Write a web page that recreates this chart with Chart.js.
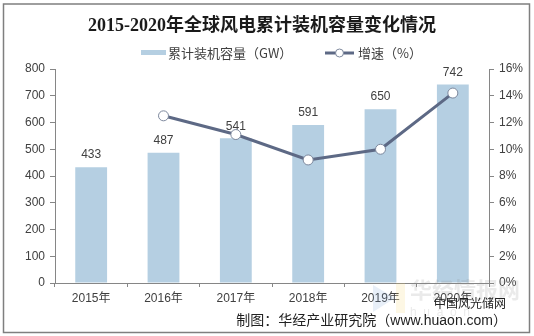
<!DOCTYPE html>
<html>
<head>
<meta charset="utf-8">
<script src="https://cdn.jsdelivr.net/npm/chart.js@4.4.1/dist/chart.umd.min.js"></script>
<style>
  html, body { margin: 0; padding: 0; background: #fff; }
  #chart { display: block; }
</style>
</head>
<body>
<canvas id="chart" width="534" height="336"></canvas>
<script>
// Datos
const years = ['2015年', '2016年', '2017年', '2018年', '2019年', '2020年'];
const capacity = [433, 487, 541, 591, 650, 742];        // GW
const growth = [null, 12.5, 11.1, 9.2, 10.0, 14.2];     // %

const titleText = '2015-2020年全球风电累计装机容量变化情况';
const barLabel = '累计装机容量（GW）';
const lineLabel = '增速（%）';
const sourceText = '制图：华经产业研究院（www.huaon.com）';
const markText = '中国风光储网';

const BAR_COLOR = '#b5cfe2';
const LINE_COLOR = '#5d6985';
const TEXT_COLOR = '#404040';
const FONT = '"Liberation Sans", "Noto Sans CJK SC", sans-serif';

// Titulo, leyenda, marco y pie dibujados a mano
const decor = {
  id: 'decor',
  afterDatasetDraw(chart, args) {
    if (args.index !== 0) return;
    // etiquetas sobre las barras
    const ctx = chart.ctx;
    ctx.save();
    ctx.font = '12px ' + FONT;
    ctx.fillStyle = TEXT_COLOR;
    ctx.textAlign = 'center';
    ctx.textBaseline = 'bottom';
    args.meta.data.forEach((bar, i) => {
      ctx.fillText(capacity[i], bar.x, bar.y - 6);
    });
    ctx.restore();
  },
  afterDraw(chart) {
    const ctx = chart.ctx;
    ctx.save();
    // marco
    ctx.strokeStyle = '#7f7f7f';
    ctx.lineWidth = 1.5;
    ctx.strokeRect(3.5, 4, 526, 328.5);

    // titulo
    ctx.fillStyle = '#1a1a1a';
    ctx.font = 'bold 18px "Liberation Serif", "Noto Sans CJK SC", serif';
    ctx.textAlign = 'center';
    ctx.textBaseline = 'middle';
    ctx.fillText(titleText, 262, 26);

    // leyenda
    ctx.font = '13px "Noto Sans CJK SC", "Liberation Sans", sans-serif';
    ctx.textAlign = 'left';
    ctx.fillStyle = BAR_COLOR;
    ctx.fillRect(141, 50, 25, 5);
    ctx.fillStyle = TEXT_COLOR;
    ctx.fillText(barLabel, 168, 53);
    ctx.strokeStyle = LINE_COLOR;
    ctx.lineWidth = 3;
    ctx.beginPath();
    ctx.moveTo(325, 53);
    ctx.lineTo(354, 53);
    ctx.stroke();
    ctx.beginPath();
    ctx.arc(339.5, 53, 4, 0, Math.PI * 2);
    ctx.fillStyle = '#fff';
    ctx.fill();
    ctx.strokeStyle = '#7d889d';
    ctx.lineWidth = 1;
    ctx.stroke();
    ctx.fillStyle = TEXT_COLOR;
    ctx.fillText(lineLabel, 358, 53);

    // marca de agua
    ctx.globalAlpha = 0.18;
    ctx.fillStyle = '#7da6d8';
    ctx.beginPath();
    ctx.moveTo(373, 285); ctx.lineTo(395, 298); ctx.lineTo(373, 312);
    ctx.closePath();
    ctx.fill();
    ctx.fillStyle = '#f3d36a';
    ctx.fillRect(396, 283, 9, 30);
    ctx.fillStyle = '#8a8a8a';
    ctx.font = 'bold 22px "Noto Sans CJK SC", sans-serif';
    ctx.fillText('华经情报网', 410, 290);
    ctx.font = '12px "Liberation Sans", sans-serif';
    ctx.fillText('h  u  a  o  n', 410, 313);
    ctx.globalAlpha = 1;

    ctx.textAlign = 'right';
    ctx.fillStyle = '#222';
    ctx.font = '12px "Noto Sans CJK SC", sans-serif';
    ctx.fillText(markText, 506, 303);
    ctx.font = '14px ' + FONT;
    ctx.fillText(sourceText, 507, 321);
    ctx.restore();
  }
};

new Chart(document.getElementById('chart'), {
  type: 'bar',
  data: {
    labels: years,
    datasets: [{
      type: 'bar',
      label: barLabel,
      data: capacity,
      backgroundColor: BAR_COLOR,
      barPercentage: 0.44,
      categoryPercentage: 1,
      yAxisID: 'y',
      order: 1
    }, {
      type: 'line',
      label: lineLabel,
      data: growth,
      borderColor: LINE_COLOR,
      borderWidth: 3,
      pointRadius: 5,
      pointBackgroundColor: '#fff',
      pointBorderColor: '#7d889d',
      pointBorderWidth: 1,
      tension: 0,
      yAxisID: 'y1',
      order: 0
    }]
  },
  options: {
    responsive: false,
    animation: false,
    layout: { padding: { left: 3, right: 5, top: 69, bottom: 23 } },
    plugins: {
      legend: { display: false },
      title: { display: false },
      tooltip: { enabled: false }
    },
    scales: {
      x: {
        afterFit: s => { s.height = 30; },
        grid: { drawOnChartArea: false, tickLength: 4, color: '#868686', offset: true },
        border: { color: '#868686' },
        ticks: { font: { size: 12, family: FONT }, color: TEXT_COLOR, padding: 4 }
      },
      y: {
        position: 'left',
        min: 0, max: 800,
        afterFit: s => { s.width = 52; },
        grid: { drawOnChartArea: false, tickLength: 5, color: '#868686' },
        border: { color: '#868686' },
        ticks: { stepSize: 100, font: { size: 12, family: FONT }, color: TEXT_COLOR, padding: 5 }
      },
      y1: {
        position: 'right',
        min: 0, max: 16,
        afterFit: s => { s.width = 40; },
        grid: { drawOnChartArea: false, tickLength: 5, color: '#868686' },
        border: { color: '#868686' },
        ticks: { stepSize: 2, callback: v => v + '%', font: { size: 12, family: FONT }, color: TEXT_COLOR, padding: 5 }
      }
    }
  },
  plugins: [decor]
});
</script>
</body>
</html>
